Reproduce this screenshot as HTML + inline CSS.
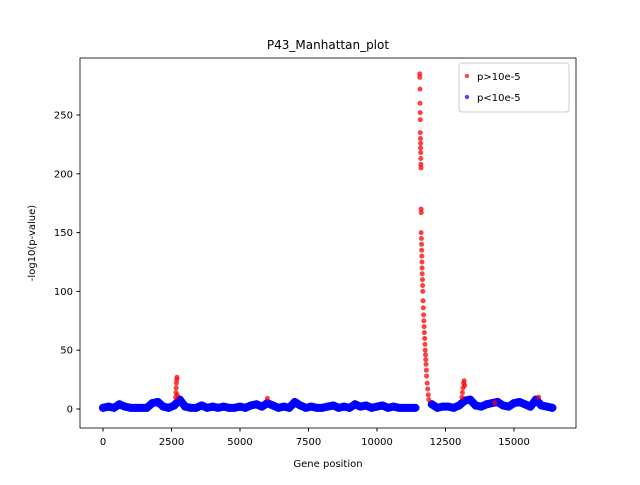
<!DOCTYPE html>
<html><head><meta charset="utf-8"><style>
body{margin:0;background:#fff;font-family:"Liberation Sans",sans-serif}
svg text{font-family:"DejaVu Sans","Liberation Sans",sans-serif;font-size:10px}
</style></head><body>
<svg width="640" height="480">
<rect width="640" height="480" fill="#fff"/>
<text x="328" y="49" text-anchor="middle" style="font-size:12px">P43_Manhattan_plot</text>
<g id="plot"></g>
<rect x="80" y="58" width="496" height="370" fill="none" stroke="#000" stroke-width="0.8"/>
<g id="axes"></g>
<text x="328" y="467" text-anchor="middle">Gene position</text>
<text transform="translate(35,243) rotate(-90)" text-anchor="middle">-log10(p-value)</text>
<g>
<rect x="459" y="63" width="110" height="49" rx="3" fill="#fff" fill-opacity="0.8" stroke="#ccc"/>
<circle cx="467" cy="76" r="2.2" fill="red" fill-opacity="0.7"/>
<text x="477" y="80">p&gt;10e-5</text>
<circle cx="467" cy="97" r="2.2" fill="blue" fill-opacity="0.7"/>
<text x="477" y="101">p&lt;10e-5</text>
</g>
</svg>
<script>
const xTicks=[0,2500,5000,7500,10000,12500,15000];
const yTicks=[0,50,100,150,200,250];
const blueStep=200;
const blueVals=[1,2,1,4,2,1,1,1,1,5, 6,2,1,3,8,2,1,1,3,1, 2,1,2,1,1,2,1,3,4,2, 5,3,1,2,1,6,3,1,2,1, 1,2,3,1,2,1,4,2,3,1, 2,3,1,2,1,1,1,1,null,null, 4,1,2,2,1,3,7,8,3,2, 4,5,6,3,2,5,6,4,2,8, 3,2,1];
const redPos=[2650,2660,2670,2680,2690,2700,2710,6000,
11560,11560,11570,11570,11575,11580,11580,11585,11590,11590,11595,11600,11600,11605,11610,11615,
11610,11620,11625,11630,11635,11640,11645,11650,11660,11665,11670,11680,11690,11700,11710,11720,11730,11740,11750,11760,11770,11780,11790,11800,11810,11830,11850,11870,11890,
13100,13120,13140,13160,13180,13200,14300,15900];
const redVals=[10,14,18,22,25,27,12,9,
285,282,272,260,252,246,235,230,226,222,218,213,208,205,
170,167,150,145,140,135,130,125,120,115,110,105,100,92,86,80,75,70,65,60,55,50,46,42,38,33,28,22,17,12,8,
10,14,18,22,24,20,5,10];
function sx(v){return 103+v*(514-103)/15000;}
function sy(v){return 409-v*(409-115)/250;}
const NS="http://www.w3.org/2000/svg";
const plot=document.getElementById('plot'),axes=document.getElementById('axes');
let d="",pen=false;
blueVals.forEach((v,i)=>{if(v===null){pen=false;return;}d+=(pen?"L":"M")+sx(i*blueStep)+","+sy(v);pen=true;});
const bl=document.createElementNS(NS,'path');
bl.setAttribute('d',d);bl.setAttribute('stroke','blue');bl.setAttribute('stroke-width','8');bl.setAttribute('fill','none');bl.setAttribute('stroke-linejoin','round');bl.setAttribute('stroke-linecap','round');


plot.appendChild(bl);
blueVals.forEach((v,i)=>{if(v===null)return;const c=document.createElementNS(NS,'circle');
c.setAttribute('cx',sx(i*blueStep));c.setAttribute('cy',sy(v));c.setAttribute('r','4');c.setAttribute('fill','blue');


plot.appendChild(c);});
redPos.forEach((p,i)=>{const c=document.createElementNS(NS,'circle');
c.setAttribute('cx',sx(p));c.setAttribute('cy',sy(redVals[i]));c.setAttribute('r','2.5');c.setAttribute('fill','red');c.setAttribute('fill-opacity','0.75');


plot.appendChild(c);});
xTicks.forEach(t=>{const x=sx(t);
const l=document.createElementNS(NS,'line');l.setAttribute('x1',x);l.setAttribute('x2',x);l.setAttribute('y1',428);l.setAttribute('y2',431.5);l.setAttribute('stroke','#000');


axes.appendChild(l);
const tx=document.createElementNS(NS,'text');tx.setAttribute('x',x);tx.setAttribute('y',445);tx.setAttribute('text-anchor','middle');tx.textContent=t;


axes.appendChild(tx);});
yTicks.forEach(t=>{const y=sy(t);
const l=document.createElementNS(NS,'line');l.setAttribute('x1',76.5);l.setAttribute('x2',80);l.setAttribute('y1',y);l.setAttribute('y2',y);l.setAttribute('stroke','#000');


axes.appendChild(l);
const tx=document.createElementNS(NS,'text');tx.setAttribute('x',73);tx.setAttribute('y',y+3.5);tx.setAttribute('text-anchor','end');tx.textContent=t;


axes.appendChild(tx);});
</script>
</body></html>
